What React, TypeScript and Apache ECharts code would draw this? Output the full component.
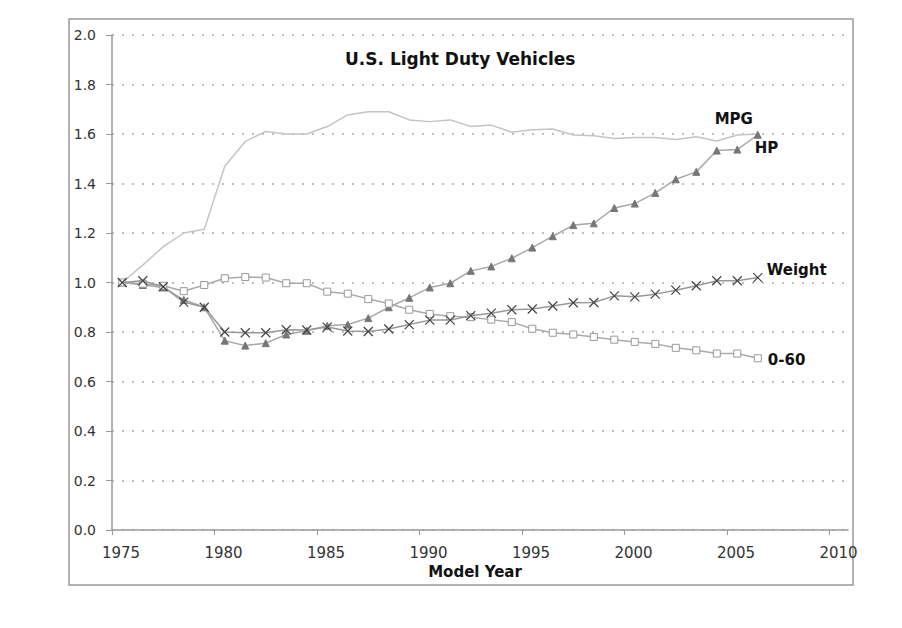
import React, { useEffect, useRef } from "react";
import * as echarts from "echarts";

// Model years (plotted at mid-year)
const years = [
  1975, 1976, 1977, 1978, 1979, 1980, 1981, 1982, 1983, 1984, 1985, 1986, 1987, 1988, 1989, 1990,
  1991, 1992, 1993, 1994, 1995, 1996, 1997, 1998, 1999, 2000, 2001, 2002, 2003, 2004, 2005, 2006,
];
const MID_YEAR = 0.5;

const mpg = [
  1.0, 1.07, 1.145, 1.2, 1.215, 1.47, 1.57, 1.61, 1.6, 1.6, 1.63, 1.677, 1.69, 1.69, 1.657, 1.65,
  1.657, 1.63, 1.636, 1.607, 1.617, 1.62, 1.596, 1.593, 1.582, 1.586, 1.586, 1.578, 1.589, 1.572, 1.596, 1.6,
];
const hp = [
  1.0, 0.99, 0.98, 0.93, 0.9, 0.765, 0.745, 0.755, 0.79, 0.805, 0.825, 0.83, 0.856, 0.9, 0.938, 0.98,
  0.997, 1.047, 1.065, 1.098, 1.141, 1.187, 1.232, 1.239, 1.301, 1.319, 1.362, 1.417, 1.447, 1.533, 1.537, 1.597,
];
const weight = [
  1.0, 1.007, 0.983, 0.921, 0.9, 0.8, 0.797, 0.797, 0.809, 0.808, 0.82, 0.804, 0.802, 0.812, 0.83, 0.848,
  0.848, 0.866, 0.876, 0.89, 0.893, 0.905, 0.918, 0.919, 0.946, 0.942, 0.953, 0.969, 0.987, 1.007, 1.007, 1.02,
];
const zeroToSixty = [
  1.0, 0.995, 0.987, 0.965, 0.99, 1.017, 1.022, 1.02, 0.997, 0.997, 0.963, 0.955, 0.933, 0.915, 0.89, 0.873,
  0.864, 0.86, 0.85, 0.84, 0.813, 0.797, 0.79, 0.78, 0.769, 0.76, 0.752, 0.736, 0.726, 0.713, 0.713, 0.694,
];

const xTickYears = [1975, 1980, 1985, 1990, 1995, 2000, 2005, 2010];
const titleText = "U.S. Light Duty Vehicles";
const xAxisTitle = "Model Year";

const FONT = "DejaVu Sans";

function buildData(values: number[], name: string, labelOpts: any, lastSymbol?: any) {
  return values.map((v, i) => {
    const pt = [years[i] + MID_YEAR, v];
    if (i === values.length - 1) {
      return {
        value: pt,
        ...(lastSymbol || {}),
        label: {
          show: true,
          formatter: name,
          fontFamily: FONT,
          fontWeight: "bold",
          fontSize: 15,
          color: "#111",
          ...labelOpts,
        },
      };
    }
    return pt;
  });
}

export default function App() {
  const ref = useRef<HTMLDivElement>(null);
  useEffect(() => {
    document.body.style.margin = "0";
    const chart = echarts.init(ref.current!, null, { renderer: "svg" });
    const option: any = {
      animation: false,
      backgroundColor: "#fff",
      title: {
        text: titleText,
        left: 340,
        top: 45,
        textStyle: { fontFamily: FONT, fontWeight: "bold", fontSize: 17, color: "#111" },
      },
      graphic: [
        {
          type: "rect",
          shape: { x: 69, y: 19, width: 784, height: 566 },
          style: { fill: "none", stroke: "#999", lineWidth: 1.5 },
          silent: true,
        },
      ],
      grid: { left: 112, right: 54, top: 35, bottom: 98, containLabel: false },
      xAxis: {
        type: "value",
        min: 1975,
        max: 2010.9,
        interval: 5,
        name: xAxisTitle,
        nameLocation: "middle",
        nameGap: 34,
        nameTextStyle: { fontFamily: FONT, fontWeight: "bold", fontSize: 15, color: "#111", padding: [0, 10, 0, 0] },
        axisLine: { show: true, lineStyle: { color: "#999", width: 1.5 } },
        axisTick: { show: true, length: 5, customValues: xTickYears, lineStyle: { color: "#999" } },
        axisLabel: {
          customValues: xTickYears,
          formatter: (v: number) => String(v),
          fontFamily: FONT,
          fontSize: 15,
          color: "#333",
          margin: 15,
          padding: [0, 0, 0, 18],
        },
        splitLine: { show: false },
      },
      yAxis: {
        type: "value",
        min: 0,
        max: 2,
        interval: 0.2,
        axisLine: { show: true, lineStyle: { color: "#999", width: 1.5 } },
        axisTick: { show: true, length: 6, lineStyle: { color: "#999" } },
        axisLabel: {
          formatter: (v: number) => v.toFixed(1),
          fontFamily: FONT,
          fontSize: 14,
          color: "#333",
          margin: 16,
        },
        splitLine: { show: true, lineStyle: { color: "#aaa", type: [2, 8], width: 1.5 } },
      },
      series: [
        {
          name: "MPG",
          type: "line",
          symbol: "none",
          lineStyle: { color: "#c4c4c4", width: 1.5 },
          itemStyle: { color: "#c4c4c4" },
          data: buildData(
            mpg,
            "MPG",
            { position: "top", offset: [-24, -2] },
            { symbol: "circle", symbolSize: 1 }
          ),
          z: 2,
        },
        {
          name: "HP",
          type: "line",
          symbol: "triangle",
          symbolSize: 7,
          showAllSymbol: true,
          lineStyle: { color: "#a8a8a8", width: 1.5 },
          itemStyle: { color: "#777", borderColor: "#777" },
          data: buildData(hp, "HP", { position: "right", offset: [-12, 13] }),
          z: 3,
        },
        {
          name: "0-60",
          type: "line",
          symbol: "rect",
          symbolSize: 7,
          showAllSymbol: true,
          lineStyle: { color: "#aaa", width: 1.5 },
          itemStyle: { color: "#fff", borderColor: "#999", borderWidth: 1 },
          data: buildData(zeroToSixty, "0-60", { position: "right", offset: [1, 2] }),
          z: 4,
        },
        {
          name: "Weight",
          type: "line",
          symbol: "path://M0,0L10,10M10,0L0,10",
          symbolSize: 9,
          showAllSymbol: true,
          lineStyle: { color: "#999", width: 1.5 },
          itemStyle: { color: "none", borderColor: "#444", borderWidth: 1.2 },
          data: buildData(weight, "Weight", { position: "right", offset: [-3, -8] }),
          z: 5,
        },
      ],
    };
    chart.setOption(option);
    return () => chart.dispose();
  }, []);
  return <div ref={ref} style={{ width: 902, height: 628 }} />;
}
